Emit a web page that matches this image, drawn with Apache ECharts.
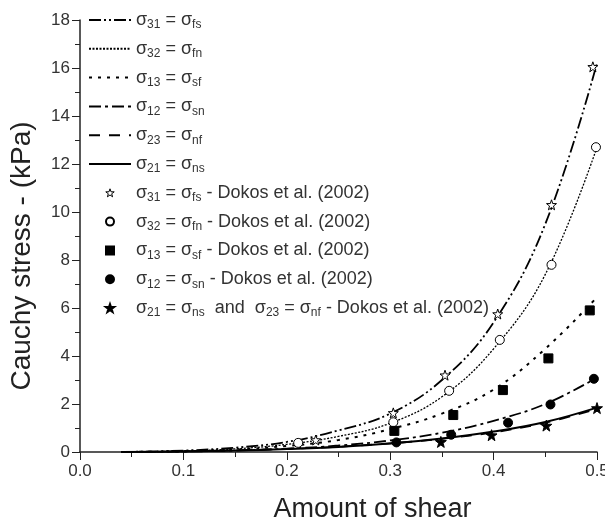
<!DOCTYPE html>
<html lang="en">
  <head>
    <meta charset="UTF-8" />
    <title>Cauchy stress vs amount of shear</title>
    <script src="https://cdn.jsdelivr.net/npm/echarts@6/dist/echarts.min.js"></script>
    <style>
      body { margin: 0; background: #fff; }
      #main { width: 605px; height: 520px; }
    </style>
  </head>
  <body>
    <div id="main"></div>
    <script>
      // model curves
      const shear = [0.04, 0.1, 0.15, 0.2, 0.25, 0.3, 0.35, 0.4, 0.45, 0.5];
      const s31 = [0, 0.06, 0.18, 0.42, 0.9, 1.6, 3.0, 5.4, 9.5, 16.2];
      const s32 = [0, 0.04, 0.13, 0.32, 0.65, 1.2, 2.3, 4.3, 7.4, 12.7];
      const s13 = [0, 0.03, 0.1, 0.25, 0.5, 0.95, 1.6, 2.6, 4.3, 6.45];
      const s12 = [0, 0.02, 0.06, 0.14, 0.27, 0.48, 0.8, 1.3, 2.0, 3.1];
      const s23 = [0, 0.03, 0.07, 0.13, 0.22, 0.36, 0.55, 0.82, 1.22, 1.8];
      const s21 = [0, 0.02, 0.06, 0.12, 0.21, 0.35, 0.56, 0.85, 1.25, 1.85];

      // Dokos et al. (2002) measurements
      const d31x = [0.228, 0.303, 0.353, 0.404, 0.456, 0.496];
      const d31y = [0.5, 1.63, 3.2, 5.75, 10.3, 16.05];
      const d32x = [0.211, 0.303, 0.357, 0.406, 0.456, 0.499];
      const d32y = [0.38, 1.24, 2.55, 4.67, 7.8, 12.7];
      const d13x = [0.304, 0.361, 0.409, 0.453, 0.493];
      const d13y = [0.88, 1.54, 2.58, 3.9, 5.9];
      const d12x = [0.306, 0.359, 0.414, 0.455, 0.497];
      const d12y = [0.4, 0.72, 1.22, 1.98, 3.05];
      const d21x = [0.349, 0.398, 0.451, 0.5];
      const d21y = [0.42, 0.7, 1.1, 1.83];

      const xTicks = ["0.0", "0.1", "0.2", "0.3", "0.4", "0.5"];

      const star =
        "path://M0,-10L2.35,-3.24L9.51,-3.09L3.8,1.24L5.88,8.09L0,4L-5.88,8.09L-3.8,1.24L-9.51,-3.09L-2.35,-3.24Z";
      const square = "path://M0,0L10,0L10,10L0,10Z";
      const font = "Liberation Sans";
      const ink = "#222";

      function pairs(xs, ys) {
        return xs.map((x, i) => [x, ys[i]]);
      }

      // legend labels with subscripts
      const labels = {
        a: "{m|σ}{b|31}{m| = σ}{b|fs}",
        b: "{m|σ}{b|32}{m| = σ}{b|fn}",
        c: "{m|σ}{b|13}{m| = σ}{b|sf}",
        d: "{m|σ}{b|12}{m| = σ}{b|sn}",
        e: "{m|σ}{b|23}{m| = σ}{b|nf}",
        f: "{m|σ}{b|21}{m| = σ}{b|ns}",
        g: "{m|σ}{b|31}{m| = σ}{b|fs}{m| - Dokos et al. (2002)}",
        h: "{m|σ}{b|32}{m| = σ}{b|fn}{m| - Dokos et al. (2002)}",
        i: "{m|σ}{b|13}{m| = σ}{b|sf}{m| - Dokos et al. (2002)}",
        j: "{m|σ}{b|12}{m| = σ}{b|sn}{m| - Dokos et al. (2002)}",
        k: "{m|σ}{b|21}{m| = σ}{b|ns}{m|  and  σ}{b|23}{m| = σ}{b|nf}{m| - Dokos et al. (2002)}",
      };

      function curve(name, data, type, width) {
        return {
          name: name,
          type: "line",
          data: pairs(shear, data),
          smooth: 0.4,
          symbol: "none",
          // keeps the legend icon to the bare line
          itemStyle: { color: "rgba(0,0,0,0)", borderWidth: 0 },
          lineStyle: { color: "#000", width: width, type: type },
          z: 2,
        };
      }

      function points(name, xs, ys, symbol, size, fill) {
        return {
          name: name,
          type: "scatter",
          data: pairs(xs, ys),
          symbol: symbol,
          symbolSize: size,
          itemStyle: { color: fill, borderColor: "#000", borderWidth: 1, opacity: 1 },
          z: 5,
        };
      }

      const legendItems = Object.keys(labels).map((k) => {
        if (k === "g") {
          return { name: k, itemStyle: { color: "#fff", borderColor: "#000", borderWidth: 1 } };
        }
        return { name: k };
      });

      const chart = echarts.init(document.getElementById("main"));
      chart.setOption({
        animation: false,
        backgroundColor: "#fff",
        grid: { left: 80, right: 8, top: 20, bottom: 68, outerBoundsMode: "none" },
        legend: {
          orient: "vertical",
          left: 88,
          top: 9,
          padding: 0,
          itemWidth: 42,
          itemHeight: 8,
          itemGap: 6.8,
          selectedMode: false,
          data: legendItems,
          formatter: (name) => labels[name],
          textStyle: {
            rich: {
              m: { fontFamily: font, fontSize: 18, color: "#333", lineHeight: 20 },
              b: { fontFamily: font, fontSize: 12, color: "#333", lineHeight: 20, padding: [10, 0, 0, 0] },
            },
          },
        },
        xAxis: {
          type: "value",
          min: 0,
          max: 0.5,
          interval: 0.1,
          name: "Amount of shear",
          nameLocation: "middle",
          nameGap: 44,
          nameTextStyle: { fontFamily: font, fontSize: 27, color: ink, padding: [0, 0, 0, 68] },
          axisLine: { lineStyle: { color: ink, width: 1.5 } },
          axisTick: { inside: false, length: 8, lineStyle: { color: ink } },
          minorTick: { show: true, splitNumber: 2, length: 5, lineStyle: { color: ink } },
          splitLine: { show: false },
          axisLabel: {
            fontFamily: font,
            fontSize: 17,
            color: "#333",
            margin: 11,
            formatter: (v) => xTicks[Math.round(v * 10)],
          },
        },
        yAxis: {
          type: "value",
          min: 0,
          max: 18,
          interval: 2,
          name: "Cauchy stress - (kPa)",
          nameLocation: "middle",
          nameGap: 44,
          nameTextStyle: { fontFamily: font, fontSize: 28, color: ink, padding: [0, 40, 0, 0] },
          axisLine: { show: true, lineStyle: { color: ink, width: 1.5 } },
          axisTick: { show: true, inside: false, length: 8, lineStyle: { color: ink } },
          minorTick: { show: true, splitNumber: 2, length: 5, lineStyle: { color: ink } },
          splitLine: { show: false },
          axisLabel: { fontFamily: font, fontSize: 17, color: "#333", margin: 10 },
        },
        series: [
          curve("a", s31, [12, 3, 2, 3, 2, 3], 1.8),
          curve("b", s32, [2, 1.5], 1.3),
          curve("c", s13, [3, 6], 2),
          curve("d", s12, [12, 4, 3, 4], 1.8),
          curve("e", s23, [11, 9], 1.8),
          curve("f", s21, "solid", 2),
          points("g", d31x, d31y, star, 10, "#fff"),
          points("h", d32x, d32y, "circle", 9, "#fff"),
          points("i", d13x, d13y, square, 9, "#000"),
          points("j", d12x, d12y, "circle", 9, "#000"),
          points("k", d21x, d21y, star, 11, "#000"),
        ],
      });
    </script>
  </body>
</html>
